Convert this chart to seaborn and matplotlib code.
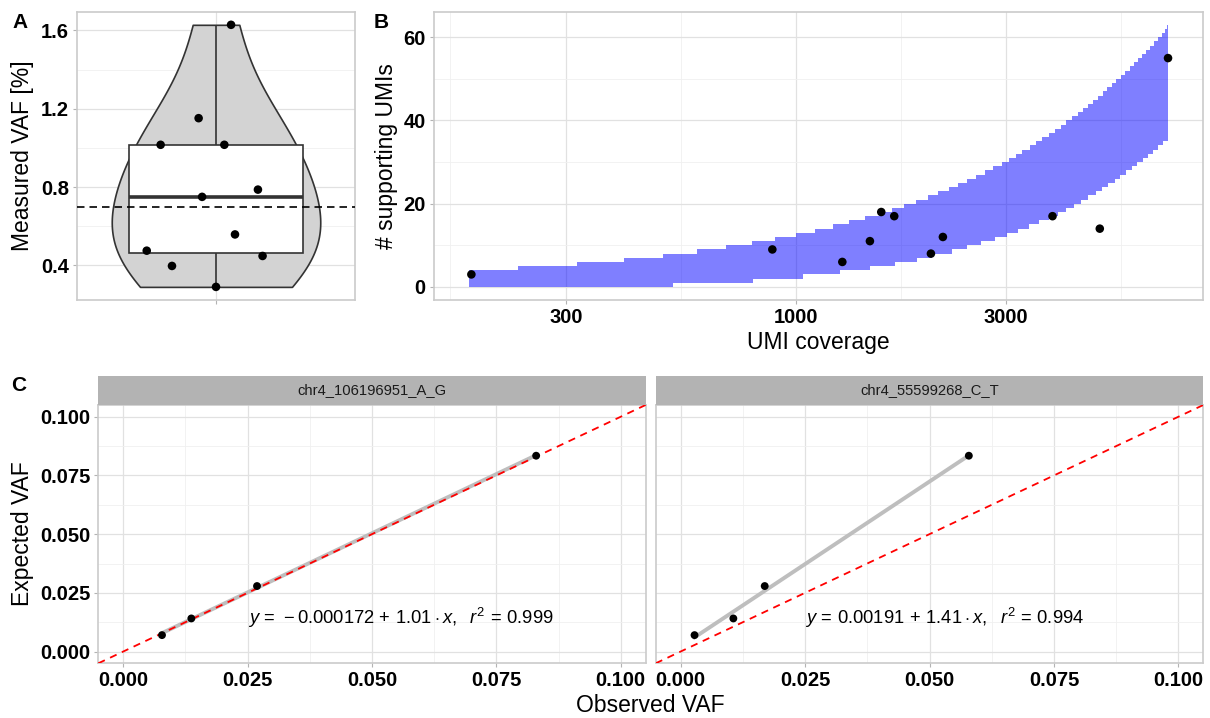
import numpy as np
import matplotlib
matplotlib.use("Agg")
import matplotlib.pyplot as plt
from matplotlib.ticker import FixedLocator, NullFormatter
import seaborn as sns

# ---------------- data ----------------
# Panel A: measured VAF [%] (with the jitter offsets seen in the picture)
vaf_pct = [1.629, 1.152, 1.016, 1.016, 0.787, 0.750, 0.558, 0.475, 0.448, 0.397, 0.290]
jitter_offset = [0.065, -0.075, -0.239, 0.036, 0.181, -0.060, 0.082, -0.299, 0.201, -0.190, 0.0]
reference_vaf_pct = 0.7

# Panel B: UMI coverage vs supporting UMIs
umi_coverage = [183, 884, 1275, 1473, 1563, 1673, 2027, 2158, 3830, 4905, 7010]
supporting_umis = [3, 9, 6, 11, 18, 17, 8, 12, 17, 14, 55]

# Panel B band (step edges)
band_upper_cov = [181, 234, 318, 406, 500, 595, 692, 793, 896, 1000, 1105, 1212, 1322,
                  1435, 1547, 1655, 1763, 1874, 1992, 2106, 2227, 2338, 2451, 2573, 2693,
                  2807, 2933, 3045, 3161, 3273, 3401, 3522, 3634, 3763, 3876, 3999, 4120,
                  4251, 4379, 4495, 4614, 4736, 4862, 4990, 5105, 5231, 5351, 5474, 5609,
                  5737, 5858, 5993, 6119, 6260, 6392, 6516, 6654, 6795, 6914, 6963]
band_upper = [4, 5, 6, 7, 8, 9, 10, 11, 12, 13, 14, 15, 16,
              17, 18, 19, 20, 21, 22, 23, 24, 25, 26, 27, 28,
              29, 30, 31, 32, 33, 34, 35, 36, 37, 38, 39, 40,
              41, 42, 43, 44, 45, 46, 47, 48, 49, 50, 51, 52,
              53, 54, 55, 56, 57, 58, 59, 60, 61, 62, 63]
band_lower_cov = [181, 527, 797, 1036, 1259, 1473, 1679, 1880, 2034, 2266, 2451, 2637,
                  2838, 3015, 3200, 3389, 3565, 3763, 3944, 4120, 4280, 4456, 4614, 4803,
                  4965, 5123, 5305, 5464, 5639, 5808, 5972, 6152, 6315, 6482, 6654, 6829]
band_lower = [0, 1, 2, 3, 4, 5, 6, 7, 8, 9, 10, 11,
              12, 13, 14, 15, 16, 17, 18, 19, 20, 21, 22, 23,
              24, 25, 26, 27, 28, 29, 30, 31, 32, 33, 34, 35]
band_end_cov = 7010

# Panel C
facet_labels = ["chr4_106196951_A_G", "chr4_55599268_C_T"]
expected_vaf = [0.0070, 0.0141, 0.0279, 0.0834]
observed_vaf = {
    "chr4_106196951_A_G": [0.0078, 0.0137, 0.0269, 0.0830],
    "chr4_55599268_C_T": [0.0028, 0.0106, 0.0169, 0.0579],
}
fit_labels = {
    "chr4_106196951_A_G": r"$y\,=\,-0.000172\,+\,1.01\cdot x,\ \ r^2\,=\,0.999$",
    "chr4_55599268_C_T": r"$y\,=\,0.00191\,+\,1.41\cdot x,\ \ r^2\,=\,0.994$",
}
c_ticks = [0.0, 0.025, 0.05, 0.075, 0.1]
c_tick_labels = ["0.000", "0.025", "0.050", "0.075", "0.100"]

# ---------------- style ----------------
plt.rcParams["font.family"] = ["Liberation Sans", "DejaVu Sans"]
plt.rcParams["mathtext.fontset"] = "custom"
plt.rcParams["mathtext.rm"] = "Liberation Sans"
plt.rcParams["mathtext.it"] = "Liberation Sans:italic"
plt.rcParams["mathtext.bf"] = "Liberation Sans:bold"

W, H = 1210, 718
fig = plt.figure(figsize=(W / 100, H / 100), dpi=100, facecolor="white")


def rect(l, t, r, b):
    return [l / W, 1 - b / H, (r - l) / W, (b - t) / H]


TICK_FS = 14.5
TITLE_FS = 16.5


def style(ax):
    ax.set_facecolor("white")
    for s in ax.spines.values():
        s.set_color("#CBCBCB")
        s.set_linewidth(1.2)
    ax.grid(True, which="major", color="#E1E1E1", lw=0.9)
    ax.grid(True, which="minor", color="#F0F0F0", lw=0.6)
    ax.set_axisbelow(True)
    ax.tick_params(which="major", length=2.75, width=0.8, color="#B3B3B3",
                   labelsize=TICK_FS, labelcolor="black", pad=3)
    ax.tick_params(which="minor", length=0)
    ax.set_xlabel("")
    ax.set_ylabel("")


def bold_ticks(ax):
    for t in ax.get_xticklabels() + ax.get_yticklabels():
        t.set_fontweight("bold")


# ---------------- Panel A ----------------
axA = fig.add_axes(rect(77, 11.7, 355, 300))
sns.violinplot(y=vaf_pct, ax=axA, color="#D3D3D3", linecolor="#333333", linewidth=1.2,
               inner=None, cut=0, bw_method=0.72, width=0.9, density_norm="width",
               saturation=1)
sns.boxplot(y=vaf_pct, ax=axA, width=0.75, color="white", linecolor="#333333",
            linewidth=1.2, showcaps=False, showfliers=False, saturation=1,
            medianprops=dict(linewidth=2.6, color="#333333"))
axA.axhline(reference_vaf_pct, color="black", lw=1.2, ls=(0, (4.5, 3)), zorder=5)
sns.scatterplot(x=jitter_offset, y=vaf_pct, ax=axA, color="black", s=38,
                edgecolor="none", zorder=6, legend=False)
axA.set_xlim(-0.6, 0.6)
axA.set_ylim(0.223, 1.696)
style(axA)
axA.set_xticks([0])
axA.set_xticklabels([""])
axA.set_yticks([0.4, 0.8, 1.2, 1.6])
axA.set_yticklabels(["0.4", "0.8", "1.2", "1.6"])
axA.yaxis.set_minor_locator(FixedLocator([0.6, 1.0, 1.4]))
axA.xaxis.grid(True, which="major", color="#E1E1E1", lw=0.9)
bold_ticks(axA)

# ---------------- Panel B ----------------
axB = fig.add_axes(rect(433.5, 11.7, 1203, 300))
up_c = np.array(band_upper_cov, dtype=float)
lo_c = np.array(band_lower_cov, dtype=float)
grid_c = np.unique(np.concatenate([up_c, lo_c, [band_end_cov]]))
hi = np.array(band_upper)[np.searchsorted(up_c, grid_c, side="right") - 1]
lo = np.array(band_lower)[np.searchsorted(lo_c, grid_c, side="right") - 1]
axB.fill_between(grid_c, lo, hi, step="post", color="#0000FF", alpha=0.5, lw=0, zorder=2)
sns.scatterplot(x=umi_coverage, y=supporting_umis, ax=axB, color="black", s=38,
                edgecolor="none", zorder=3, legend=False)
axB.set_xscale("log")
axB.set_xlim(150.1, 8418)
axB.set_ylim(-3.15, 66.15)
style(axB)
axB.set_xticks([300, 1000, 3000])
axB.set_xticklabels(["300", "1000", "3000"])
axB.xaxis.set_minor_locator(FixedLocator([164, 548, 1733, 5477]))
axB.xaxis.set_minor_formatter(NullFormatter())
axB.set_yticks([0, 20, 40, 60])
axB.set_yticklabels(["0", "20", "40", "60"])
axB.yaxis.set_minor_locator(FixedLocator([10, 30, 50]))
axB.tick_params(which="minor", length=0)
bold_ticks(axB)

# ---------------- Panel C ----------------
c_rects = [(98.3, 645.6), (655.7, 1203.3)]
for i, lab in enumerate(facet_labels):
    l, r = c_rects[i]
    ax = fig.add_axes(rect(l, 405, r, 663.3))
    obs = observed_vaf[lab]
    sns.regplot(x=obs, y=expected_vaf, ax=ax, scatter=False, ci=None, truncate=True,
                line_kws=dict(color="#BEBEBE", lw=2.8, zorder=2))
    ax.axline((0, 0), slope=1, color="#FF0000", lw=1.3, ls=(0, (4, 3.2)), zorder=3)
    sns.scatterplot(x=obs, y=expected_vaf, ax=ax, color="black", s=32,
                    edgecolor="none", zorder=4, legend=False)
    ax.text(0.025, 0.0145, fit_labels[lab], ha="left", va="center", fontsize=13.2,
            color="black", zorder=5)
    ax.set_xlim(-0.005, 0.105)
    ax.set_ylim(-0.005, 0.105)
    style(ax)
    ax.set_xticks(c_ticks)
    ax.set_xticklabels(c_tick_labels)
    ax.set_yticks(c_ticks)
    ax.set_yticklabels(c_tick_labels)
    ax.xaxis.set_minor_locator(FixedLocator([0.0125, 0.0375, 0.0625, 0.0875]))
    ax.yaxis.set_minor_locator(FixedLocator([0.0125, 0.0375, 0.0625, 0.0875]))
    ax.tick_params(which="minor", length=0)
    if i == 1:
        ax.tick_params(axis="y", which="both", left=False, labelleft=False)
    bold_ticks(ax)

    strip = fig.add_axes(rect(l, 376, r, 405))
    strip.set_facecolor("#B3B3B3")
    for s in strip.spines.values():
        s.set_visible(False)
    strip.set_xticks([])
    strip.set_yticks([])
    strip.text(0.5, 0.5, lab, ha="center", va="center", fontsize=10.6,
               color="#1A1A1A", transform=strip.transAxes)

# ---------------- titles / tags ----------------
fig.text(22.5 / W, 1 - 156 / H, "Measured VAF [%]", rotation=90, ha="center",
         va="center", fontsize=TITLE_FS)
fig.text(386 / W, 1 - 156 / H, "# supporting UMIs", rotation=90, ha="center",
         va="center", fontsize=TITLE_FS)
fig.text(818 / W, 1 - 343 / H, "UMI coverage", ha="center", va="center",
         fontsize=TITLE_FS)
fig.text(22.5 / W, 1 - 534 / H, "Expected VAF", rotation=90, ha="center",
         va="center", fontsize=TITLE_FS)
fig.text(650.5 / W, 1 - 705 / H, "Observed VAF", ha="center", va="center",
         fontsize=TITLE_FS)

fig.text(12 / W, 1 - 13 / H, "A", ha="left", va="top", fontsize=15, fontweight="bold")
fig.text(374 / W, 1 - 13 / H, "B", ha="left", va="top", fontsize=15, fontweight="bold")
fig.text(11 / W, 1 - 376 / H, "C", ha="left", va="top", fontsize=15, fontweight="bold")

fig.savefig("out.png", dpi=100, facecolor="white")
